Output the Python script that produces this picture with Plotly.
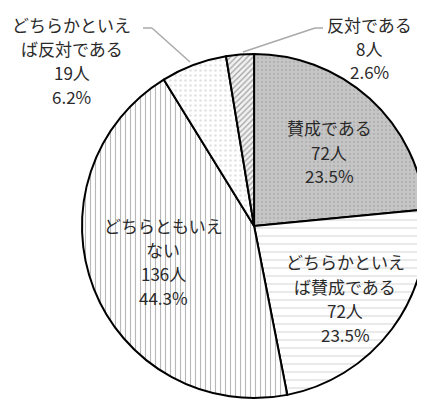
import plotly.graph_objects as go

# 回答区分と人数
labels = [["賛成である"], ["どちらかといえ", "ば賛成である"], ["どちらともいえ", "ない"],
          ["どちらかといえ", "ば反対である"], ["反対である"]]
counts = [72, 72, 136, 19, 8]
pcts = [23.5, 23.5, 44.3, 6.2, 2.6]

W, H = 425, 403
OFF = 8  # page body margin

fig = go.Figure(go.Pie(
    values=counts,
    labels=["".join(l) for l in labels],
    sort=False,
    direction="clockwise",
    rotation=0,
    textinfo="none",
    hoverinfo="label+value+percent",
    domain=dict(x=[0.174, 0.984], y=[0.032, 0.886]),
    marker=dict(
        colors=["#c4c4c4", "white", "white", "white", "white"],
        line=dict(color="black", width=2),
        pattern=dict(
            shape=[".", "-", "|", ".", "/"],
            fgcolor=["#b2b2b2", "#d2d2d2", "#b8b8b8", "#e2e2e2", "#a0a0a0"],
            bgcolor=["#c6c6c6", "white", "white", "white", "#f2f2f2"],
            size=[4, 8, 5, 5, 4],
            solidity=[0.25, 0.12, 0.22, 0.2, 0.3],
            fillmode="replace",
        ),
    ),
    showlegend=False,
))

# ラベル位置 (参照画像 px: 中心x, 1行目y)
label_pos = [(329, 128), (345, 262), (163, 225), (72, 25), (369, 24)]
font = dict(family="Noto Sans CJK JP", size=17, color="#2a2a2a")
LH = 24
for lab, n, p, (px, py) in zip(labels, counts, pcts, label_pos):
    lines = lab + [f"{n}人", f"{p}%"]
    for i, t in enumerate(lines):
        fig.add_annotation(
            x=(px - OFF) / W, y=1 - (py - OFF + i * LH) / H,
            xref="paper", yref="paper",
            text=t, showarrow=False, font=font,
            xanchor="center", yanchor="middle",
        )

# 引き出し線
leaders = [
    [(143, 28), (152, 28), (190, 62)],
    [(323, 28), (315, 28), (243, 52)],
]
for pts in leaders:
    for (x0, y0), (x1, y1) in zip(pts[:-1], pts[1:]):
        fig.add_shape(type="line", xref="paper", yref="paper",
                      x0=(x0 - OFF) / W, y0=1 - (y0 - OFF) / H,
                      x1=(x1 - OFF) / W, y1=1 - (y1 - OFF) / H,
                      line=dict(color="#aaaaaa", width=1.5))

fig.update_layout(
    width=W, height=H,
    margin=dict(l=0, r=0, t=0, b=0),
    paper_bgcolor="white",
    plot_bgcolor="white",
)

fig.write_html("out.html")
